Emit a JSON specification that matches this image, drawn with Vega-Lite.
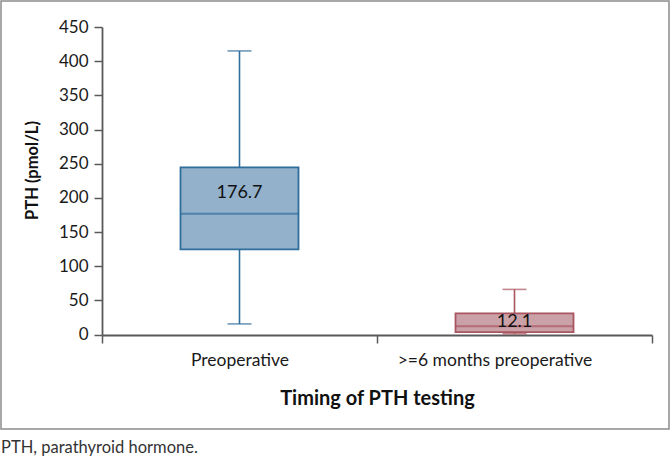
{
  "$schema": "https://vega.github.io/schema/vega-lite/v6.json",
  "width": 668,
  "height": 428,
  "autosize": {"type": "none"},
  "padding": {"left": 1, "top": 1, "right": 1, "bottom": 30},
  "background": "white",
  "config": {
    "view": {"stroke": "#8c8c8c", "strokeWidth": 1.5},
    "font": "Lato",
    "axis": {"labelFont": "Lato", "titleFont": "Lato", "domainColor": "#595959", "tickColor": "#595959", "labelColor": "#1a1a1a", "titleColor": "#111", "grid": false}
  },
  "title": {"text": "PTH, parathyroid hormone.", "orient": "bottom", "anchor": "start", "offset": 11, "fontSize": 16.5, "fontWeight": "normal", "font": "Lato", "color": "#333", "frame": "group"},
  "data": {"values": [
    {"group": "Preoperative", "min": 15.5, "q1": 124.5, "median": 176.7, "q3": 244.5, "max": 415, "label": "176.7"},
    {"group": ">=6 months preoperative", "min": 1, "q1": 3.5, "median": 12.1, "q3": 31, "max": 66, "label": "12.1"}
  ]},
  "transform": [{"calculate": "(datum.median + datum.q3) / 2 - 3", "as": "labelY"}],
  "encoding": {
    "x": {"field": "group", "type": "nominal", "sort": ["Preoperative", ">=6 months preoperative"],
      "scale": {"range": [101, 651], "paddingInner": 0, "paddingOuter": 0},
      "axis": {"title": "Timing of PTH testing", "titleFontSize": 20, "titleFontWeight": "bold", "titlePadding": 20,
        "labelFontSize": 17.5, "labelAngle": 0, "labelPadding": 8, "labelLimit": 0, "tickBand": "extent", "tickSize": 8, "domainWidth": 1.8, "tickWidth": 1.5,
        "offset": -94,
        "labelOffset": {"condition": {"test": "datum.value == '>=6 months preoperative'", "value": -20}, "value": 0}}
    }
  },
  "layer": [
    {"mark": {"type": "rule", "strokeWidth": 1.6},
      "encoding": {"y": {"field": "min", "type": "quantitative"}, "y2": {"field": "max"},
        "color": {"field": "group", "type": "nominal", "scale": {"domain": ["Preoperative", ">=6 months preoperative"], "range": ["#2F6E9B", "#A85560"]}, "legend": null}}},
    {"mark": {"type": "tick", "size": 24, "thickness": 1.6},
      "encoding": {"y": {"field": "min", "type": "quantitative"},
        "color": {"field": "group", "type": "nominal", "scale": {"domain": ["Preoperative", ">=6 months preoperative"], "range": ["#2F6E9B", "#A85560"]}, "legend": null}}},
    {"mark": {"type": "tick", "size": 24, "thickness": 1.6},
      "encoding": {"y": {"field": "max", "type": "quantitative"},
        "color": {"field": "group", "type": "nominal", "scale": {"domain": ["Preoperative", ">=6 months preoperative"], "range": ["#2F6E9B", "#A85560"]}, "legend": null}}},
    {"mark": {"type": "bar", "size": 118, "strokeWidth": 1.8},
      "encoding": {
        "y": {"field": "q1", "type": "quantitative",
          "scale": {"domain": [0, 450], "range": [333.5, 26], "nice": false},
          "axis": {"title": "PTH (pmol/L)", "titleFontSize": 16.5, "titleFontWeight": "bold", "titlePadding": 18, "titleY": 169,
            "values": [0, 50, 100, 150, 200, 250, 300, 350, 400, 450], "labelFontSize": 17, "labelPadding": 6, "tickSize": 8, "domainWidth": 1.8, "tickWidth": 1.5, "offset": -101}},
        "y2": {"field": "q3"},
        "fill": {"field": "group", "type": "nominal", "scale": {"domain": ["Preoperative", ">=6 months preoperative"], "range": ["#93B1CB", "#CBA1A8"]}, "legend": null},
        "stroke": {"field": "group", "type": "nominal", "scale": {"domain": ["Preoperative", ">=6 months preoperative"], "range": ["#2F6E9B", "#A85560"]}, "legend": null}
      }},
    {"mark": {"type": "tick", "size": 118, "thickness": 1.8},
      "encoding": {"y": {"field": "median", "type": "quantitative"},
        "color": {"field": "group", "type": "nominal", "scale": {"domain": ["Preoperative", ">=6 months preoperative"], "range": ["#2F6E9B", "#A85560"]}, "legend": null}}},
    {"mark": {"type": "text", "fontSize": 18, "font": "Lato", "color": "#111", "baseline": "middle"},
      "encoding": {"y": {"field": "labelY", "type": "quantitative"}, "text": {"field": "label"}}}
  ]
}
